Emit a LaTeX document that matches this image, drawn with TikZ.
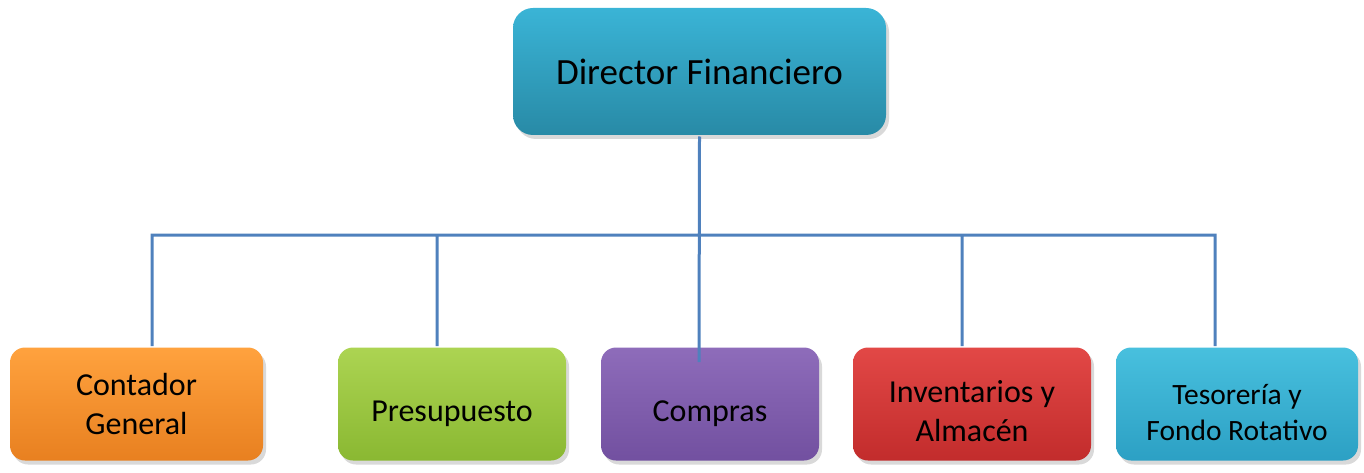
\documentclass[tikz,border=0pt]{standalone}
\usepackage{fontspec}
\setmainfont{Carlito}
\usetikzlibrary{shadows}

\definecolor{linkblue}{RGB}{79,129,189}
\definecolor{dirtop}{RGB}{58,180,214}
\definecolor{dirbot}{RGB}{40,138,166}
\definecolor{orgtop}{RGB}{255,162,62}
\definecolor{orgbot}{RGB}{232,128,32}
\definecolor{grntop}{RGB}{172,212,82}
\definecolor{grnbot}{RGB}{138,184,50}
\definecolor{purtop}{RGB}{142,108,186}
\definecolor{purbot}{RGB}{114,80,160}
\definecolor{redtop}{RGB}{226,72,70}
\definecolor{redbot}{RGB}{194,44,44}
\definecolor{tealtop}{RGB}{72,192,222}
\definecolor{tealbot}{RGB}{44,160,196}

\newcommand{\pushdown}[1]{\rule{0pt}{#1}}

\begin{document}
\begin{tikzpicture}[x=1pt,y=-1pt,-,line width=3pt,
    box node/.style={rounded corners=15pt,minimum height=113pt,inner sep=0pt,align=center,
        font=\fontsize{32}{39}\selectfont,
        drop shadow={opacity=0.3,shadow xshift=3pt,shadow yshift=-4pt}},
    link/.style={draw=linkblue,line width=3pt}]

    \useasboundingbox (0,0) rectangle (1364,473);

    \node[box node,rounded corners=20pt,minimum width=373pt,minimum height=127pt,
          top color=dirtop,bottom color=dirbot,font=\fontsize{37}{42}\selectfont] (dir) at (699.5,71.5) {Director Financiero};

    \node[box node,minimum width=253pt,top color=orgtop,bottom color=orgbot] (cont) at (136.5,404) {Contador\\General};
    \node[box node,minimum width=228pt,top color=grntop,bottom color=grnbot] (pres) at (452,404) {\pushdown{40pt}Presupuesto};
    \node[box node,minimum width=218pt,top color=purtop,bottom color=purbot] (comp) at (710,404) {\pushdown{41pt}Compras};
    \node[box node,minimum width=238pt,top color=redtop,bottom color=redbot] (inve) at (972,404) {\pushdown{37pt}Inventarios y\\Almacén};
    \node[box node,minimum width=242pt,top color=tealtop,bottom color=tealbot,font=\fontsize{29.5}{36}\selectfont] (teso) at (1237,404) {\pushdown{37pt}Tesorería y\\Fondo Rotativo};

    \coordinate (bus) at (0,235);
    \coordinate (tip) at (699,362);

    % tree links
    \path[link]
        (dir.south) -- (tip)
        (cont.north -| 152,0) -- (152,235) -- (1215,235) -- (teso.north -| 1215,0)
        (pres.north -| 437,0) -- (437,235)
        (inve.north -| 962,0) -- (962,235)
        ;
\end{tikzpicture}
\end{document}
